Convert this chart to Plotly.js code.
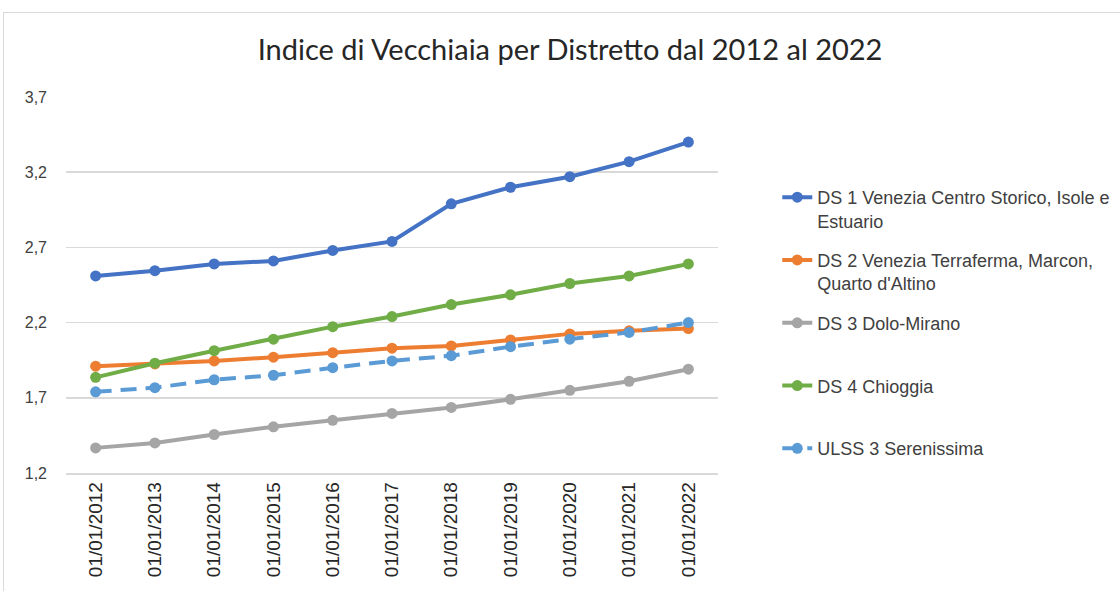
<!DOCTYPE html>
<html><head><meta charset="utf-8">
<script src="https://cdn.plot.ly/plotly-3.0.1.min.js"></script>
<style>
html,body{margin:0;padding:0;background:#fff;}
#wrap{position:relative;width:1120px;height:591px;overflow:hidden;}
#chart{position:absolute;left:0;top:0;width:1120px;height:591px;}
#frame{position:absolute;left:3px;top:12px;width:1200px;height:700px;border-top:1px solid #d9d9d9;border-left:1px solid #d9d9d9;pointer-events:none;}
</style></head>
<body><div id="wrap"><div id="chart"></div><div id="frame"></div></div>
<script>
const categories = ["01/01/2012","01/01/2013","01/01/2014","01/01/2015","01/01/2016","01/01/2017","01/01/2018","01/01/2019","01/01/2020","01/01/2021","01/01/2022"];
const seriesNames = ["DS 1 Venezia Centro Storico, Isole e<br>Estuario","DS 2 Venezia Terraferma, Marcon,<br>Quarto d'Altino","DS 3 Dolo-Mirano<br> ","DS 4 Chioggia<br> ","ULSS 3 Serenissima<br> "];
const ds1 = [2.51,2.545,2.59,2.61,2.68,2.74,2.99,3.10,3.17,3.27,3.40];
const ds2 = [1.91,1.925,1.945,1.97,2.00,2.03,2.045,2.085,2.125,2.145,2.16];
const ds3 = [1.367,1.40,1.456,1.507,1.55,1.596,1.636,1.69,1.75,1.81,1.89];
const ds4 = [1.836,1.93,2.013,2.09,2.173,2.24,2.32,2.385,2.46,2.51,2.59];
const ulss = [1.74,1.767,1.82,1.85,1.90,1.945,1.98,2.04,2.09,2.135,2.20];
const colors = ["#4472C4","#ED7D31","#A5A5A5","#70AD47","#5B9BD5"];
const values = [ds1,ds2,ds3,ds4,ulss];
const dashes = ["solid","solid","solid","solid","16px,9px"];
const yTicks = [1.2,1.7,2.2,2.7,3.2,3.7];

const traces = values.map((v,i)=>({
  type:"scatter", mode:"lines+markers", x:categories, y:v, name:seriesNames[i],
  legendgroup:"g"+i,
  line:{color:colors[i], width:4, dash:dashes[i]},
  marker:{color:colors[i], size:11}
}));

const layout = {
  width:1120, height:591,
  margin:{l:66, r:402, t:97, b:118, autoexpand:false},
  paper_bgcolor:"#fff", plot_bgcolor:"#fff",
  separators:",.",
  font:{family:"Liberation Sans, Arial, sans-serif", color:"#404040"},
  title:{text:"Indice di Vecchiaia per Distretto dal 2012 al 2022", x:0.509, xanchor:"center", y:0.915, yanchor:"middle", yref:"container",
         font:{family:"Lato, Liberation Sans, sans-serif", size:29, color:"#262626"}},
  xaxis:{type:"category", tickangle:-90, showgrid:false, showline:true, linecolor:"#d9d9d9", linewidth:1.5,
         ticks:"", tickfont:{size:19, color:"#262626"}, range:[-0.5,10.5], zeroline:false},
  yaxis:{range:[1.2,3.7], tickvals:yTicks, tickformat:".1f", showgrid:true, gridcolor:"#d9d9d9", gridwidth:1.5,
         zeroline:false, showline:false, ticks:"", ticklabelstandoff:18, tickfont:{size:16, color:"#404040"}},
  showlegend:true,
  legend:{x:0.694, xref:"container", xanchor:"left", y:0.782, yanchor:"top", yref:"paper", font:{size:18, color:"#404040"},
          tracegroupgap:13, valign:"top", itemwidth:30, bgcolor:"rgba(0,0,0,0)"}
};
Plotly.newPlot("chart", traces, layout, {displayModeBar:false, staticPlot:true});
</script></body></html>
